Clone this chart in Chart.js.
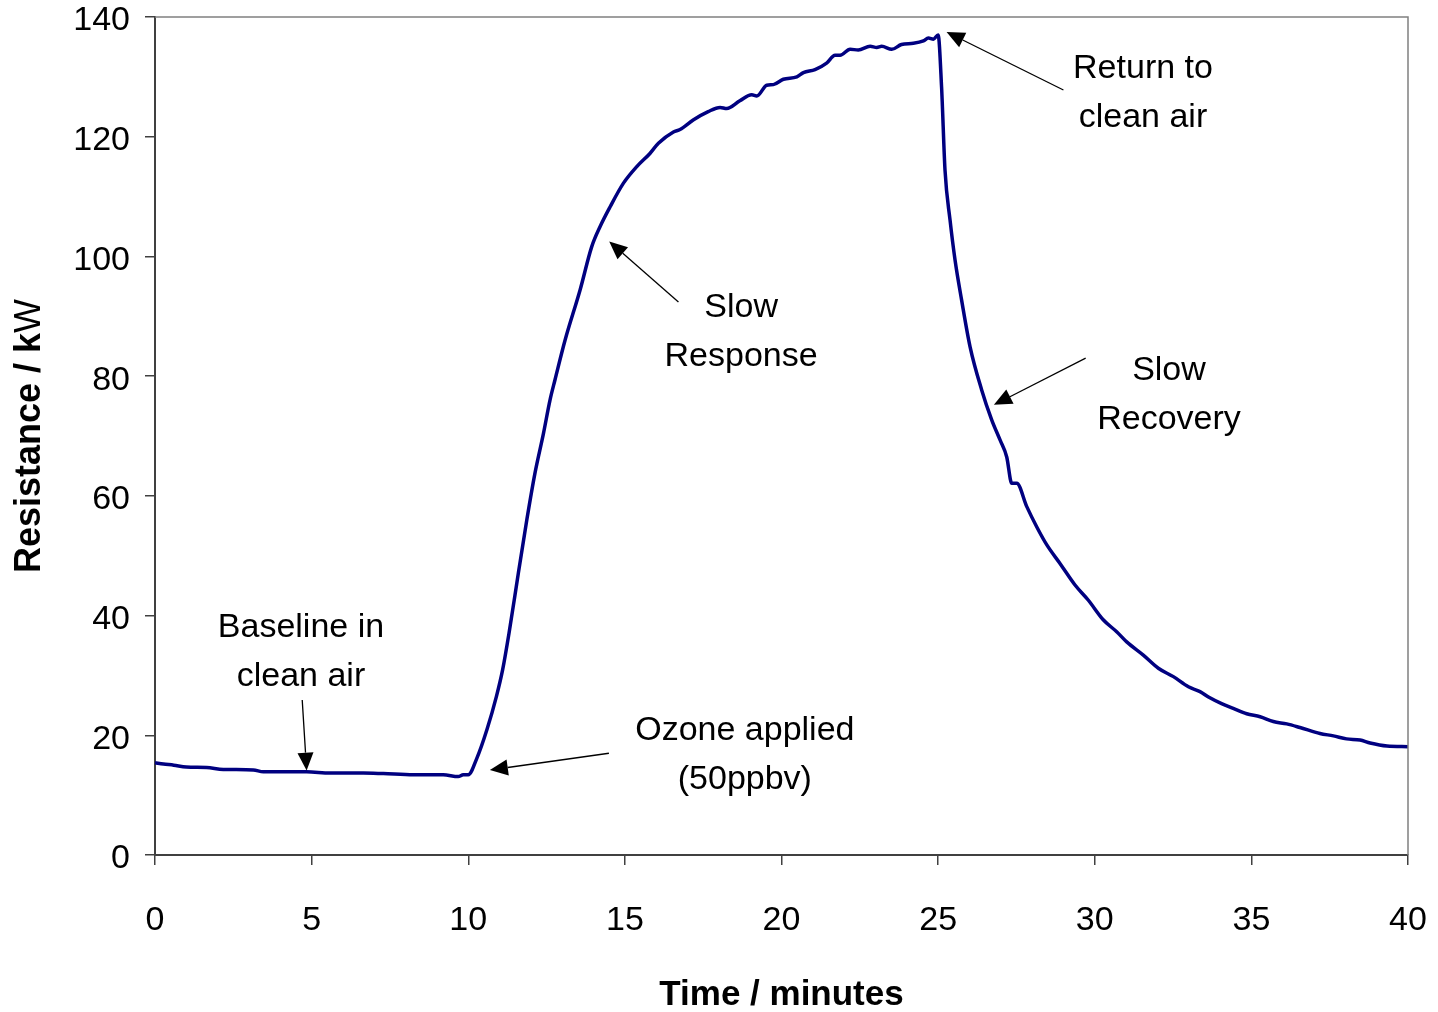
<!DOCTYPE html>
<html>
<head>
<meta charset="utf-8">
<title>Sensor resistance vs time</title>
<script src="https://cdn.jsdelivr.net/npm/chart.js@4/dist/chart.umd.min.js"></script>
<style>
    html, body { margin: 0; padding: 0; background: #ffffff; }
    #wrap { width: 1438px; height: 1012px; position: relative; }
</style>
</head>
<body>
<div id="wrap"><canvas id="resistanceChart"></canvas></div>
<script>
// Sensor trace: time in minutes, resistance in kOhm
const timeMin = [
    0, 0.27, 0.6, 1.0, 1.65, 2.18, 3.14, 3.46, 4.1, 4.84, 5.59, 6.65, 7.29, 8.25, 9.2, 9.68, 9.84, 10.0,
    10.27, 10.6, 10.9, 11.1, 11.3, 11.6, 11.87, 12.13, 12.4, 12.61, 12.77, 13.09, 13.57, 13.94,
    14.21, 14.53, 14.95, 15.38, 15.8, 16.07, 16.55, 16.76, 17.18, 17.66, 18.04, 18.25, 18.67,
    19.05, 19.21, 19.53, 19.74, 20.06, 20.49, 20.7, 21.07, 21.44, 21.71, 21.87, 22.19, 22.45,
    22.83, 23.04, 23.2, 23.52, 23.83, 24.21, 24.53, 24.69, 24.85, 25.0,
    25.11, 25.22, 25.38, 25.54, 25.75, 26.02, 26.39, 26.71, 26.98, 27.19, 27.35, 27.51, 27.83,
    28.15, 28.47, 28.89, 29.37, 29.79, 30.27, 30.7, 31.02, 31.55, 32.03, 32.51, 32.99, 33.36,
    33.63, 34.05, 34.42, 34.85, 35.28, 35.7, 36.13, 36.55, 37.19, 37.62, 38.04, 38.47, 38.79,
    39.33, 40.0
];
const resistance = [
    15.4, 15.2, 15.0, 14.7, 14.6, 14.3, 14.2, 13.9, 13.9, 13.9, 13.7, 13.7, 13.6, 13.4, 13.4, 13.1, 13.4, 13.4,
    16.1, 21.0, 26.5, 31.0, 37.0, 47.1, 56.0, 63.8, 70.4, 76.0, 79.4, 86.0, 94.4, 101.6,
    105.0, 108.3, 112.2, 115.0, 117.2, 118.9, 120.8, 121.2, 122.8, 124.2, 124.9, 124.7, 126.0,
    127.0, 126.8, 128.6, 128.7, 129.6, 130.0, 130.7, 131.2, 132.3, 133.6, 133.6, 134.6, 134.5,
    135.1, 134.9, 135.1, 134.6, 135.4, 135.6, 136.0, 136.5, 136.3, 137.0,
    128.3, 114.4, 106.1, 99.4, 92.7, 84.9, 77.7, 72.7, 69.3, 66.5, 62.1, 62.1, 58.2,
    54.8, 51.8, 48.7, 45.1, 42.6, 39.3, 37.3, 35.6, 33.4, 31.2, 29.8, 28.1, 27.3,
    26.4, 25.3, 24.5, 23.6, 23.1, 22.3, 21.9, 21.3, 20.3, 19.9, 19.4, 19.2, 18.7,
    18.2, 18.1
];
const xTicks = [0, 5, 10, 15, 20, 25, 30, 35, 40];
const yTicks = [0, 20, 40, 60, 80, 100, 120, 140];

// Callouts: text block centre (x, y) and arrow from (fx, fy) to tip (px, py), all in axis units
const notes = [
    { lines: ['Baseline in', 'clean air'],   x: 4.66,  y: 34.4,  fx: 4.70,  fy: 25.9,  px: 4.84,  py: 14.1 },
    { lines: ['Ozone applied', '(50ppbv)'],  x: 18.83, y: 17.2,  fx: 14.49, fy: 17.0,  px: 10.69, py: 14.2 },
    { lines: ['Slow', 'Response'],           x: 18.71, y: 87.9,  fx: 16.71, fy: 92.4,  px: 14.50, py: 102.5 },
    { lines: ['Return to', 'clean air'],     x: 31.54, y: 127.7, fx: 29.0,  fy: 127.8, px: 25.27, py: 137.5 },
    { lines: ['Slow', 'Recovery'],           x: 32.37, y: 77.4,  fx: 29.71, fy: 83.0,  px: 26.78, py: 75.2 }
];

const FONT = "'Liberation Sans', Arial, Helvetica, sans-serif";
const AXIS_COLOR = '#404040';

function drawArrow(ctx, x1, y1, x2, y2) {
    const ang = Math.atan2(y2 - y1, x2 - x1);
    const headLen = 18, headHalf = 8;
    const bx = x2 - headLen * Math.cos(ang);
    const by = y2 - headLen * Math.sin(ang);
    ctx.beginPath();
    ctx.moveTo(x1, y1);
    ctx.lineTo(bx, by);
    ctx.stroke();
    ctx.beginPath();
    ctx.moveTo(x2, y2);
    ctx.lineTo(bx + headHalf * Math.sin(ang), by - headHalf * Math.cos(ang));
    ctx.lineTo(bx - headHalf * Math.sin(ang), by + headHalf * Math.cos(ang));
    ctx.closePath();
    ctx.fill();
}

const decorations = {
    id: 'decorations',
    afterDraw(chart) {
        const { ctx, chartArea: a, scales: { x, y } } = chart;
        ctx.save();

        // light frame on top and right
        ctx.strokeStyle = '#808080';
        ctx.lineWidth = 1.5;
        ctx.beginPath();
        ctx.moveTo(a.left, a.top);
        ctx.lineTo(a.right, a.top);
        ctx.lineTo(a.right, a.bottom);
        ctx.stroke();

        // axis titles
        ctx.fillStyle = '#000';
        ctx.textBaseline = 'middle';
        ctx.textAlign = 'center';
        ctx.font = 'bold 35px ' + FONT;
        ctx.fillText('Time / minutes', (a.left + a.right) / 2, 995);

        ctx.save();
        ctx.translate(30, (a.top + a.bottom) / 2);
        ctx.rotate(-Math.PI / 2);
        const part1 = 'Resistance / k';
        const part2 = 'W';
        ctx.font = 'bold 36px ' + FONT;
        const w1 = ctx.measureText(part1).width;
        ctx.font = '36px ' + FONT;
        const w2 = ctx.measureText(part2).width;
        ctx.textAlign = 'left';
        ctx.font = 'bold 36px ' + FONT;
        ctx.fillText(part1, -(w1 + w2) / 2, 0);
        ctx.font = '36px ' + FONT;
        ctx.fillText(part2, -(w1 + w2) / 2 + w1, 0);
        ctx.restore();

        // callouts
        ctx.font = '34px ' + FONT;
        ctx.textAlign = 'center';
        ctx.strokeStyle = '#000';
        ctx.lineWidth = 1.3;
        const lineGap = 49;
        notes.forEach(n => {
            const cx = x.getPixelForValue(n.x);
            const cy = y.getPixelForValue(n.y) + 3;
            n.lines.forEach((t, i) => {
                ctx.fillText(t, cx, cy + (i - (n.lines.length - 1) / 2) * lineGap);
            });
            drawArrow(ctx,
                x.getPixelForValue(n.fx), y.getPixelForValue(n.fy),
                x.getPixelForValue(n.px), y.getPixelForValue(n.py));
        });

        ctx.restore();
    }
};

const points = timeMin.map((t, i) => ({ x: t, y: resistance[i] }));

new Chart(document.getElementById('resistanceChart'), {
    type: 'scatter',
    data: {
        datasets: [{
            data: points,
            showLine: true,
            borderColor: '#000080',
            backgroundColor: '#000080',
            borderWidth: 3.5,
            pointRadius: 0,
            cubicInterpolationMode: 'monotone',
            clip: false
        }]
    },
    options: {
        responsive: true,
        maintainAspectRatio: false,
        animation: false,
        layout: { padding: { top: 17, right: 30, left: 0, bottom: 0 } },
        plugins: {
            legend: { display: false },
            tooltip: { enabled: false }
        },
        scales: {
            x: {
                type: 'linear',
                min: 0,
                max: 40,
                afterBuildTicks: s => { s.ticks = xTicks.map(v => ({ value: v })); },
                afterFit: s => {
                    s.height = 157;
                    s.paddingLeft = 0;
                    s.paddingRight = 0;
                },
                grid: { drawOnChartArea: false, drawTicks: true, tickLength: 10, color: AXIS_COLOR, lineWidth: 1.5 },
                border: { color: AXIS_COLOR, width: 2 },
                ticks: {
                    color: '#000',
                    padding: 39,
                    maxRotation: 0,
                    font: { family: FONT, size: 34, lineHeight: 1 }
                }
            },
            y: {
                type: 'linear',
                min: 0,
                max: 140,
                afterBuildTicks: s => { s.ticks = yTicks.map(v => ({ value: v })); },
                afterFit: s => {
                    s.width = 155;
                    s.paddingTop = 0;
                    s.paddingBottom = 0;
                },
                grid: { drawOnChartArea: false, drawTicks: true, tickLength: 10, color: AXIS_COLOR, lineWidth: 1.5 },
                border: { color: AXIS_COLOR, width: 2 },
                ticks: {
                    color: '#000',
                    padding: 15,
                    labelOffset: 4,
                    font: { family: FONT, size: 34, lineHeight: 1 }
                }
            }
        }
    },
    plugins: [decorations]
});
</script>
</body>
</html>
